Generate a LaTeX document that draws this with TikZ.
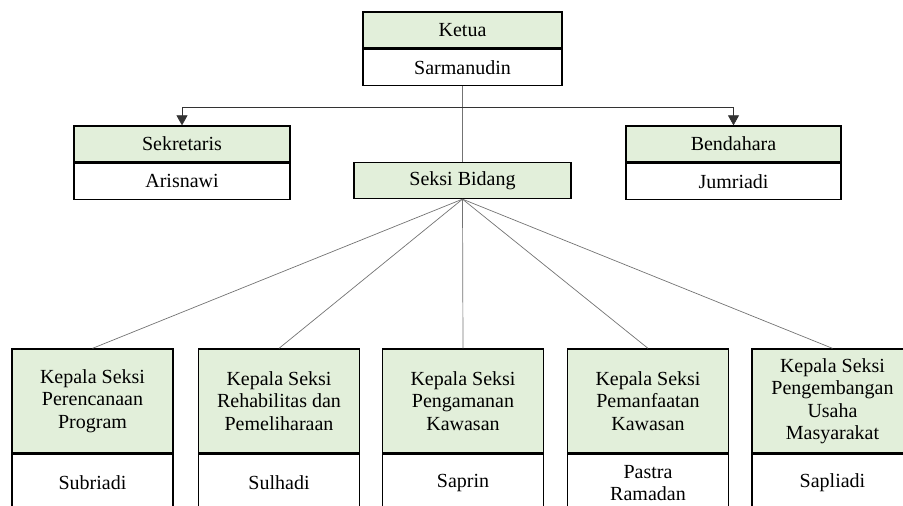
\documentclass[tikz,border=0pt]{standalone}
\usepackage{fontspec}
\setmainfont{Liberation Serif}
\usetikzlibrary{positioning,arrows.meta}
\definecolor{headgreen}{HTML}{E2EFDA}
\begin{document}
\begin{tikzpicture}[x=1pt,y=-1pt,
    every node/.style={draw,line width=1.3pt,inner sep=0pt,align=center,font=\fontsize{20}{22.5}\selectfont},
    head/.style={fill=headgreen},
    person/.style={fill=white},
    box/.style={minimum width=#1,minimum height=36pt},
    unit/.style={minimum width=161pt,minimum height=#1},
    link/.style={draw=black!55,line width=0.7pt},
    arrow/.style={draw=black!80,line width=0.7pt,-{Triangle[width=11pt,length=10pt]}}]
    \clip (0,0) rectangle (903,506);
    % pengurus inti
    \node[head,box=199pt] (ketua) at (462.5,30) {Ketua};
    \node[person,box=199pt,below=0pt of ketua] (ketuaN) {Sarmanudin};
    \node[head,box=216pt] (sekretaris) at (182,144) {Sekretaris};
    \node[person,box=216pt,below=0pt of sekretaris] (sekretarisN) {Arisnawi};
    \node[head,box=215pt] (bendahara) at (733.5,144) {Bendahara};
    \node[person,box=215pt,below=0pt of bendahara] (bendaharaN) {Jumriadi};
    \node[head,box=217pt] (bidang) at (462.5,180.5) {Seksi Bidang};
    % kepala seksi
    \node[head,unit=104pt] (kA) at (92.5,401) {Kepala Seksi\\Perencanaan\\Program};
    \node[person,unit=57pt,below=0pt of kA] (kAN) {Subriadi};
    \node[head,unit=104pt] (kB) at (279,401) {Kepala Seksi\\Rehabilitas dan\\Pemeliharaan};
    \node[person,unit=57pt,below=0pt of kB] (kBN) {Sulhadi};
    \node[head,unit=104pt] (kC) at (463,401) {Kepala Seksi\\Pengamanan\\Kawasan};
    \node[person,unit=57pt,below=0pt of kC] (kCN) {Saprin};
    \node[head,unit=104pt] (kD) at (648,401) {Kepala Seksi\\Pemanfaatan\\Kawasan};
    \node[person,unit=57pt,below=0pt of kD] (kDN) {Pastra\\Ramadan};
    \node[head,unit=104pt] (kE) at (832.5,401) {Kepala Seksi\\Pengembangan\\Usaha\\Masyarakat};
    \node[person,unit=57pt,below=0pt of kE] (kEN) {Sapliadi};
    % garis
    \coordinate (split) at (ketuaN.south |- 0,107);
    \draw[link] (ketuaN.south) -- (bidang.north);
    \draw[arrow] (split) -| (sekretaris.north);
    \draw[arrow] (split) -| (bendahara.north);
    \foreach \k in {kA,kB,kC,kD,kE}
        \draw[link] (bidang.south) -- (\k.north);
\end{tikzpicture}
\end{document}
